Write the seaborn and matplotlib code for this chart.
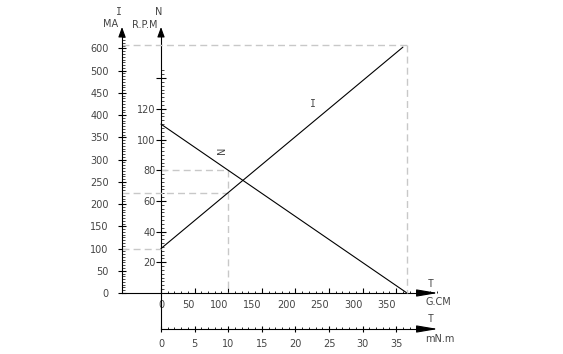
import matplotlib
matplotlib.use("Agg")
import matplotlib.pyplot as plt
import seaborn as sns
import numpy as np
from matplotlib.ticker import FixedLocator, FixedFormatter

# ---------------- data ----------------
torque_gcm_N = [0, 366]          # speed line, torque in G.CM
speed_rpm = [110, 0]             # N (R.P.M)
torque_gcm_I = [0, 360]          # current line, torque in G.CM
current_ma = [100, 553]          # I (MA), in printed-scale units

i_ticks = [0, 50, 100, 150, 200, 250, 300, 350, 400, 450, 500, 550]
i_tick_labels = ["0", "50", "100", "150", "200", "250", "300", "350",
                 "400", "450", "500", "600"]
n_ticks = [20, 40, 60, 80, 100, 120, 140]
n_tick_labels = ["20", "40", "60", "80", "100", "120", ""]
gcm_ticks = [0, 50, 100, 150, 200, 250, 300, 350]
gcm_tick_labels = ["0", "50", "100", "150", "200", "250", "300", "350"]
mnm_ticks = [0, 5, 10, 15, 20, 25, 30, 35]
mnm_tick_labels = ["0", "5", "10", "15", "20", "25", "30", "35"]

ref_T, ref_N, ref_I = 100, 80, 225   # working point guides
start_I = 100
max_T, max_I = 366, 558

# ---------------- styling ----------------
sns.set_theme(style="white")
plt.rcParams['font.family'] = ['DejaVu Sans']
TXT = '#444444'
DASH = '#c8c8c8'
MONO = ['DejaVu Sans Mono']

W, H = 563, 354
fig = plt.figure(figsize=(W / 100, H / 100), dpi=100)
fig.patch.set_facecolor('white')


def rect(x0, y0, x1, y1):
    return [x0 / W, 1 - y1 / H, (x1 - x0) / W, (y1 - y0) / H]


# pixel geometry
X0PX, Y0PX = 161, 293
GX = 0.672      # px per G.CM
NS = 1.535      # px per RPM
IS = 0.4446     # px per MA
L, R, T, B = 122, 440, 20, 329

ax = fig.add_axes(rect(L, T, R, B))
ax.set_facecolor('none')
xlo, xhi = (L - X0PX) / GX, (R - X0PX) / GX
ax.set_xlim(xlo, xhi)
ax.set_ylim((Y0PX - B) / NS, (Y0PX - T) / NS)
ylo = (Y0PX - B) / NS

ax2 = ax.twinx()
ax2.set_ylim((Y0PX - B) / IS, (Y0PX - T) / IS)

# main lines
sns.lineplot(x=torque_gcm_N, y=speed_rpm, ax=ax, color='black', lw=0.8)
sns.lineplot(x=torque_gcm_I, y=current_ma, ax=ax2, color='black', lw=0.8)

# dashed guides
dkw = dict(color=DASH, lw=1.0, linestyle=(0, (5, 3)), zorder=1)
ax.plot([0, ref_T], [ref_N, ref_N], **dkw)
ax.plot([ref_T, ref_T], [ref_N, 0], **dkw)
ax2.plot([xlo, ref_T], [ref_I, ref_I], **dkw)
ax2.plot([xlo, 0], [start_I, start_I], **dkw)
ax2.plot([xlo, max_T], [max_I, max_I], **dkw)
ax2.plot([max_T, max_T], [max_I, 0], **dkw)

# ---------------- spines ----------------
n_tip = (Y0PX - 27) / NS
n_base = (Y0PX - 35) / NS
i_tip = (Y0PX - 27) / IS
i_base = (Y0PX - 35) / IS
x_tip = (438 - X0PX) / GX
x_base = (420 - X0PX) / GX

for s in ['top', 'right']:
    ax.spines[s].set_visible(False)
ax.spines['left'].set_position(('data', 0))
ax.spines['left'].set_bounds(ylo, n_base)
ax.spines['bottom'].set_position(('data', 0))
ax.spines['bottom'].set_bounds(xlo, x_base)
for s in ['left', 'bottom']:
    ax.spines[s].set_color('black')
    ax.spines[s].set_linewidth(0.8)

for s in ['top', 'right', 'bottom']:
    ax2.spines[s].set_visible(False)
ax2.spines['left'].set_visible(True)
ax2.spines['left'].set_position(('axes', 0))
ax2.spines['left'].set_bounds(0, i_base)
ax2.spines['left'].set_color('black')
ax2.spines['left'].set_linewidth(0.8)

# ---------------- ticks ----------------
# N axis
ax.yaxis.set_major_locator(FixedLocator(n_ticks))
ax.yaxis.set_major_formatter(FixedFormatter(n_tick_labels))
ax.yaxis.set_minor_locator(FixedLocator(np.arange(0, 146, 2.5)))
ax.tick_params(axis='y', which='major', left=True, right=False, direction='inout',
               length=6.5, width=0.8, color='black', pad=0.5, labelsize=7,
               labelcolor=TXT)
ax.tick_params(axis='y', which='minor', left=True, right=False, direction='in',
               length=2, width=0.5, color='black')

# G.CM axis
ax.set_xticks(gcm_ticks)
ax.set_xticklabels(gcm_tick_labels, ha='right')
ax.get_xticklabels()[0].set_ha('center')
ax.xaxis.set_minor_locator(FixedLocator(np.arange(0, 411, 10)))
ax.tick_params(axis='x', which='major', bottom=True, top=False, direction='in',
               length=3.5, width=0.8, color='black', pad=5.0, labelsize=7,
               labelcolor=TXT)
ax.tick_params(axis='x', which='minor', bottom=True, top=False, direction='in',
               length=1.3, width=0.6, color='black')

# I axis
ax2.yaxis.set_ticks_position('left')
ax2.yaxis.set_major_locator(FixedLocator(i_ticks))
ax2.yaxis.set_major_formatter(FixedFormatter(i_tick_labels))
ax2.yaxis.set_minor_locator(FixedLocator(np.arange(0, 580, 6.25)))
ax2.tick_params(axis='y', which='major', left=True, right=False, labelleft=True,
                labelright=False, direction='inout', length=6, width=0.8,
                color='black', pad=6.5, labelsize=7, labelcolor=TXT)
ax2.tick_params(axis='y', which='minor', left=True, right=False, direction='in',
                length=2, width=0.5, color='black')

# mN.m axis
sec = ax.secondary_xaxis(0, functions=(lambda t: t / 10.0, lambda m: m * 10.0))
sec.set_xticks(mnm_ticks)
sec.set_xticklabels(mnm_tick_labels)
sec.xaxis.set_minor_locator(FixedLocator(np.arange(0, 39, 1)))
sec.spines['bottom'].set_bounds(0, x_base / 10.0)
sec.spines['bottom'].set_linewidth(0.8)
sec.spines['bottom'].set_color('black')
sec.tick_params(axis='x', which='major', direction='inout', length=5, width=0.8,
                color='black', pad=5, labelsize=7, labelcolor=TXT)
sec.tick_params(axis='x', which='minor', direction='in', length=1.3, width=0.6,
                color='black')

# ---------------- arrow heads ----------------
def arrow(axis, tip, base, hl, hw):
    axis.annotate('', xy=tip, xytext=base, annotation_clip=False,
                  arrowprops=dict(arrowstyle=f'-|>,head_length={hl},head_width={hw}',
                                  lw=0.8, color='black', shrinkA=0, shrinkB=0,
                                  mutation_scale=10))

arrow(ax, (0, n_tip), (0, n_base), 0.6, 0.22)
arrow(ax2, (xlo, i_tip), (xlo, i_base), 0.6, 0.22)
arrow(ax, (x_tip, 0), (x_base, 0), 1.3, 0.22)
arrow(ax, (x_tip, ylo), (x_base, ylo), 1.3, 0.22)

# ---------------- texts ----------------
def ftext(x, y, s, ha='center', **kw):
    fig.text(x / W, 1 - y / H, s, ha=ha, va='center', fontsize=7, color=TXT, **kw)

ftext(119, 12, 'I', family=MONO)
ftext(118.5, 24, 'MA', ha='right')
ftext(159, 12, 'N')
ftext(157.5, 25, 'R.P.M', ha='right')
ftext(431, 284, 'T', family=MONO)
ftext(425, 302, 'G.CM', ha='left')
ftext(431, 319, 'T', family=MONO)
ftext(425, 339, 'mN.m', ha='left')

ax.text((222 - X0PX) / GX, (Y0PX - 150) / NS, 'N', rotation=90, ha='center',
        va='center', fontsize=7, color=TXT)
ax.text((313 - X0PX) / GX, (Y0PX - 104) / NS, 'I', ha='center', va='center',
        fontsize=7, color=TXT, family=MONO)

fig.savefig('out.png', dpi=100, facecolor='white')
